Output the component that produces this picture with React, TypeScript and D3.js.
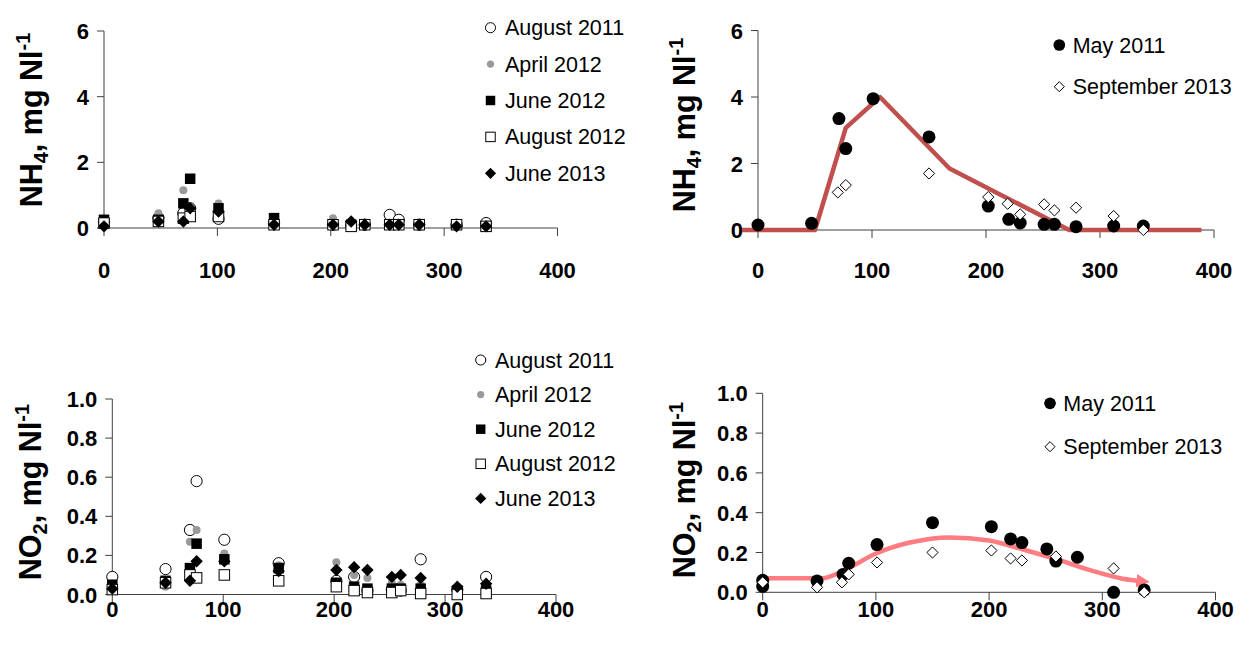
import React from "react";
import * as d3 from "d3";

// distance along the stream (m) used by the survey series
const stations = [0, 48, 70, 76, 101, 150, 202, 218, 230, 252, 260, 278, 311, 337];

// NH4, top left
const nh4Aug2011 = [0.2, 0.3, 0.45, 0.6, 0.28, 0.15, 0.1, 0.08, 0.1, 0.4, 0.25, 0.1, 0.1, 0.15];
const nh4Apr2012 = [0.25, 0.45, 1.15, 0.5, 0.75, 0.2, 0.3, 0.1, 0.1, 0.1, 0.1, 0.05, 0.05, 0.05];
const nh4Jun2012 = [0.25, 0.25, 0.75, 1.5, 0.6, 0.3, 0.1, 0.1, 0.1, 0.1, 0.1, 0.1, 0.1, 0.05];
const nh4Aug2012 = [0.15, 0.2, 0.3, 0.35, 0.35, 0.1, 0.1, 0.05, 0.1, 0.1, 0.1, 0.1, 0.1, 0.05];
const nh4Jun2013 = [0.05, 0.2, 0.2, 0.6, 0.5, 0.1, 0.1, 0.2, 0.1, 0.1, 0.1, 0.1, 0.05, 0.05];

// NO2, bottom left
const no2Aug2011 = [0.09, 0.13, 0.33, 0.58, 0.28, 0.16, 0.07, 0.09, 0.02, 0.025, 0.02, 0.18, 0.025, 0.09];
const no2Apr2012 = [0.04, 0.04, 0.27, 0.33, 0.21, 0.15, 0.165, 0.1, 0.085, 0.06, 0.05, 0.05, 0.02, 0.01];
const no2Jun2012 = [0.05, 0.07, 0.135, 0.26, 0.18, 0.135, 0.06, 0.04, 0.03, 0.03, 0.03, 0.03, 0.02, 0.02];
const no2Aug2012 = [0.025, 0.06, 0.1, 0.085, 0.1, 0.07, 0.04, 0.02, 0.01, 0.01, 0.02, 0.005, 0, 0.005];
const no2Jun2013 = [0.03, 0.06, 0.07, 0.17, 0.17, 0.12, 0.125, 0.14, 0.125, 0.09, 0.1, 0.085, 0.04, 0.055];

// NH4, top right
const nh4MayX = [0, 47, 71, 77, 101, 150, 202, 220, 230, 251, 260, 279, 312, 338];
const nh4MayY = [0.15, 0.2, 3.35, 2.45, 3.95, 2.8, 0.72, 0.32, 0.21, 0.17, 0.17, 0.1, 0.12, 0.12];
const nh4SepX = [70, 77, 150, 202, 219, 230, 251, 260, 279, 312, 338];
const nh4SepY = [1.13, 1.35, 1.7, 0.99, 0.79, 0.47, 0.77, 0.59, 0.67, 0.42, 0];
const nh4LineX = [-14, 50, 77, 107, 168, 273, 389];
const nh4LineY = [0, 0, 3.07, 4.0, 1.85, 0, 0];

// NO2, bottom right
const no2MayX = [0, 0, 48, 71, 76, 101, 150, 202, 219, 229, 251, 259, 278, 310, 337];
const no2MayY = [0.06, 0.03, 0.057, 0.09, 0.146, 0.24, 0.35, 0.33, 0.268, 0.25, 0.218, 0.157, 0.176, 0, 0.012];
const no2SepX = [0, 48, 70, 76, 101, 150, 202, 219, 229, 259, 310, 337];
const no2SepY = [0.05, 0.025, 0.05, 0.09, 0.15, 0.2, 0.21, 0.17, 0.16, 0.18, 0.12, 0];
const no2CurveX = [0, 52, 75, 100, 130, 165, 200, 230, 260, 290, 318, 336];
const no2CurveY = [0.07, 0.07, 0.12, 0.195, 0.25, 0.276, 0.26, 0.215, 0.165, 0.11, 0.068, 0.055];

const xTicks = [0, 100, 200, 300, 400];
const nh4Ticks = [0, 2, 4, 6];
const no2Ticks = [0, 0.2, 0.4, 0.6, 0.8, 1.0];

const FONT = "'Liberation Sans', Arial, sans-serif";

function Marker({ shape, x, y, small }) {
  const k = small ? 0.9 : 1;
  if (shape === "openCircle")
    return <circle cx={x} cy={y} r={5.6 * k} fill="#fff" stroke="#000" strokeWidth={1} />;
  if (shape === "grayDot")
    return <circle cx={x} cy={y} r={4 * k} fill="#999" />;
  if (shape === "blackSquare") {
    const s = 10.5 * k;
    return <rect x={x - s / 2} y={y - s / 2} width={s} height={s} fill="#000" />;
  }
  if (shape === "openSquare") {
    const s = 10.5 * k;
    return <rect x={x - s / 2} y={y - s / 2} width={s} height={s} fill="#fff" stroke="#000" strokeWidth={1} />;
  }
  if (shape === "blackDiamond") {
    const h = 6.2 * k;
    return <path d={`M${x},${y - h}L${x + h},${y}L${x},${y + h}L${x - h},${y}Z`} fill="#000" />;
  }
  if (shape === "blackCircle")
    return <circle cx={x} cy={y} r={6.5 * k} fill="#000" />;
  // openDiamond
  const h = 5.6 * k;
  return <path d={`M${x},${y - h}L${x + h},${y}L${x},${y + h}L${x - h},${y}Z`} fill="#fff" stroke="#000" strokeWidth={1} />;
}

function Panel({ cfg }) {
  const x = d3.scaleLinear().domain([0, 400]).range(cfg.xRange);
  const y = d3.scaleLinear().domain([0, cfg.yMax]).range(cfg.yRange);
  const x0 = x(0);
  const y0 = y(0);
  const fmt = cfg.fmt;

  let linePath = null;
  if (cfg.line) {
    const pts = cfg.line.xs.map((v, i) => [v, cfg.line.ys[i]]);
    const gen = d3
      .line()
      .x((d) => x(d[0]))
      .y((d) => y(d[1]))
      .curve(cfg.line.smooth ? d3.curveMonotoneX : d3.curveLinear);
    linePath = gen(pts);
  }

  return (
    <g fontFamily={FONT}>
      {/* y axis */}
      <line x1={x0} x2={x0} y1={y(cfg.yMax)} y2={y0} stroke="#404040" />
      {cfg.yTicks.map((t) => (
        <g key={"y" + t}>
          <line x1={x0 - 7} x2={x0} y1={y(t)} y2={y(t)} stroke="#404040" />
          <text x={x0 - 15} y={y(t) + 8} textAnchor="end" fontWeight="bold" fontSize={22}>
            {fmt(t)}
          </text>
        </g>
      ))}
      {/* x axis */}
      <line x1={x0} x2={x(400)} y1={y0} y2={y0} stroke="#404040" />
      {xTicks.map((t) => (
        <g key={"x" + t}>
          <line x1={x(t)} x2={x(t)} y1={y0} y2={y0 + 8} stroke="#404040" />
          <text x={x(t)} y={cfg.xLabelY} textAnchor="middle" fontWeight="bold" fontSize={22}>
            {t}
          </text>
        </g>
      ))}
      {/* axis title */}
      <text
        transform={`translate(${cfg.titlePos[0]},${cfg.titlePos[1]}) rotate(-90)`}
        textAnchor="middle"
        fontWeight="bold"
        fontSize={30.5}
      >
        {cfg.chem}
        <tspan fontSize={20} dy={6}>{cfg.sub}</tspan>
        <tspan dy={-6}>, mg Nl</tspan>
        <tspan fontSize={20} dy={-12}>-1</tspan>
      </text>

      {linePath && (
        <path
          d={linePath}
          fill="none"
          stroke={cfg.line.color}
          strokeWidth={cfg.line.width}
          strokeLinejoin="round"
          markerEnd={cfg.line.arrow ? "url(#arrow)" : undefined}
        />
      )}

      {cfg.series.map((s) => (
        <g key={s.name}>
          {s.xs.map((v, i) => (
            <Marker key={i} shape={s.shape} x={x(v)} y={y(s.ys[i])} />
          ))}
        </g>
      ))}

      {/* legend */}
      {cfg.series.map((s, i) => {
        const cy = cfg.legend.y + i * cfg.legend.step;
        return (
          <g key={"lg" + s.name}>
            <Marker shape={s.shape} x={cfg.legend.mx} y={cy} small />
            <text x={cfg.legend.tx} y={cy + 7.5} fontSize={21.5}>
              {s.name}
            </text>
          </g>
        );
      })}
    </g>
  );
}

const intFmt = (t) => String(t);
const decFmt = (t) => d3.format(".1f")(t);

const panels = [
  {
    xRange: [104, 557.5],
    yRange: [228, 31],
    yMax: 6,
    yTicks: nh4Ticks,
    fmt: intFmt,
    xLabelY: 278,
    chem: "NH",
    sub: "4",
    titlePos: [42, 120],
    legend: { mx: 490.5, tx: 505, y: 27.7, step: 36.4 },
    series: [
      { name: "August 2011", shape: "openCircle", xs: stations, ys: nh4Aug2011 },
      { name: "April 2012", shape: "grayDot", xs: stations, ys: nh4Apr2012 },
      { name: "June 2012", shape: "blackSquare", xs: stations, ys: nh4Jun2012 },
      { name: "August 2012", shape: "openSquare", xs: stations, ys: nh4Aug2012 },
      { name: "June 2013", shape: "blackDiamond", xs: stations, ys: nh4Jun2013 },
    ],
  },
  {
    xRange: [758, 1214],
    yRange: [230, 30.5],
    yMax: 6,
    yTicks: nh4Ticks,
    fmt: intFmt,
    xLabelY: 278,
    chem: "NH",
    sub: "4",
    titlePos: [695, 125],
    legend: { mx: 1059.3, tx: 1072.7, y: 45, step: 41.7 },
    line: { xs: nh4LineX, ys: nh4LineY, color: "#C0504D", width: 4.5, smooth: false },
    series: [
      { name: "May 2011", shape: "blackCircle", xs: nh4MayX, ys: nh4MayY },
      { name: "September 2013", shape: "openDiamond", xs: nh4SepX, ys: nh4SepY },
    ],
  },
  {
    xRange: [112.3, 556],
    yRange: [594.5, 399],
    yMax: 1.0,
    yTicks: no2Ticks,
    fmt: decFmt,
    xLabelY: 617,
    chem: "NO",
    sub: "2",
    titlePos: [41, 492],
    legend: { mx: 480.7, tx: 495, y: 360, step: 34.6 },
    series: [
      { name: "August 2011", shape: "openCircle", xs: stations, ys: no2Aug2011 },
      { name: "April 2012", shape: "grayDot", xs: stations, ys: no2Apr2012 },
      { name: "June 2012", shape: "blackSquare", xs: stations, ys: no2Jun2012 },
      { name: "August 2012", shape: "openSquare", xs: stations, ys: no2Aug2012 },
      { name: "June 2013", shape: "blackDiamond", xs: stations, ys: no2Jun2013 },
    ],
  },
  {
    xRange: [762.7, 1215.5],
    yRange: [592.3, 393.3],
    yMax: 1.0,
    yTicks: no2Ticks,
    fmt: decFmt,
    xLabelY: 617,
    chem: "NO",
    sub: "2",
    titlePos: [695, 490],
    legend: { mx: 1050, tx: 1063.3, y: 403.3, step: 43.4 },
    line: { xs: no2CurveX, ys: no2CurveY, color: "#FF7C80", width: 4.5, smooth: true, arrow: true },
    series: [
      { name: "May 2011", shape: "blackCircle", xs: no2MayX, ys: no2MayY },
      { name: "September 2013", shape: "openDiamond", xs: no2SepX, ys: no2SepY },
    ],
  },
];

export default function App() {
  return (
    <svg
      width={1240}
      height={648}
      style={{ position: "absolute", left: 0, top: 0, background: "#fff" }}
    >
      <defs>
        <marker id="arrow" viewBox="0 0 10 10" refX="5" refY="5" markerWidth="3" markerHeight="3" orient="auto">
          <path d="M0,0L10,5L0,10Z" fill="#FF7C80" />
        </marker>
      </defs>
      <rect width={1240} height={648} fill="#fff" />
      {panels.map((p, i) => (
        <Panel key={i} cfg={p} />
      ))}
    </svg>
  );
}
